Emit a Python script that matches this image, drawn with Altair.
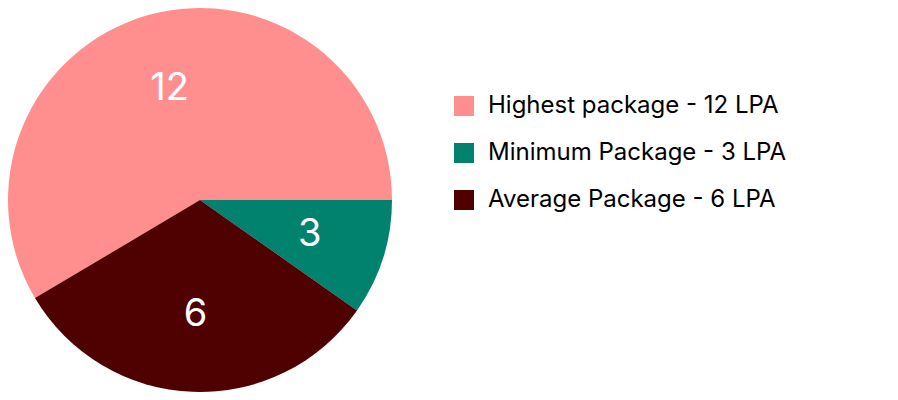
import math
import altair as alt
import pandas as pd

# Data
categories = ["Highest package - 12 LPA", "Minimum Package - 3 LPA", "Average Package - 6 LPA"]
label_values = [12, 3, 6]
arc_sizes = [12, 2, 6.5]          # slice sizes as drawn in the picture
stack_order = [3, 1, 2]           # clockwise from 3 o'clock: Minimum, Average, Highest
colors = ["#FF8F8F", "#00826F", "#4F0000"]

df = pd.DataFrame({
    "category": categories,
    "label": label_values,
    "size": arc_sizes,
    "order": stack_order,
})

theta_scale = alt.Scale(range=[math.pi / 2, math.pi / 2 + 2 * math.pi])
color_scale = alt.Scale(domain=categories, range=colors)

base = alt.Chart(df).encode(
    theta=alt.Theta("size:Q", stack=True, scale=theta_scale),
    order=alt.Order("order:Q"),
    x=alt.value(192),
    y=alt.value(192),
)

arcs = base.mark_arc(radius=192, stroke=None).encode(
    color=alt.Color(
        "category:N",
        scale=color_scale,
        sort=categories,
        legend=alt.Legend(
            title=None,
            orient="none",
            legendX=444,
            legendY=86,
            symbolType="square",
            symbolSize=400,
            symbolStrokeWidth=0,
            labelFont="Inter",
            labelFontSize=24,
            labelColor="#000000",
            labelOffset=12,
            rowPadding=23,
            labelLimit=400,
        ),
    )
)

labels = base.mark_text(
    font="Inter", fontSize=38, color="white", align="center", baseline="middle"
).encode(
    text=alt.Text("label:Q"),
    radius=alt.value(115),
)

chart = (
    alt.layer(arcs, labels)
    .properties(width=882, height=384, padding=0, autosize="none")
    .configure_view(stroke=None)
)

chart.save("out.html", embed_options={"renderer": "svg", "actions": False})
